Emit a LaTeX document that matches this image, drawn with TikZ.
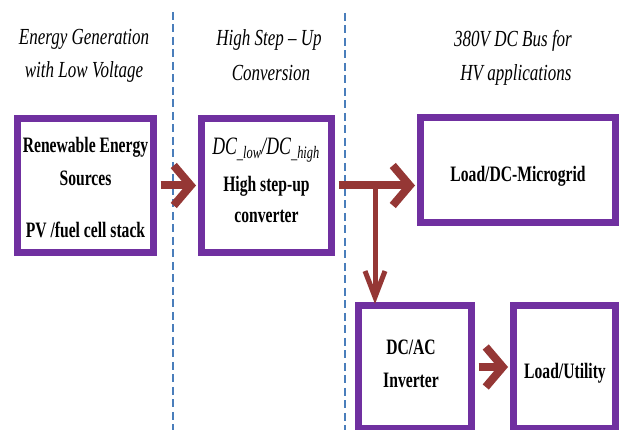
\documentclass[tikz,border=0pt]{standalone}
\usepackage{fontspec}
\setmainfont{Liberation Serif}
\usetikzlibrary{arrows.meta}
\definecolor{boxpurple}{HTML}{7030A0}
\definecolor{arrred}{HTML}{953735}
\definecolor{dashblue}{HTML}{4A7EBB}
\newcommand{\hdr}[1]{\scalebox{0.74}[1]{#1}}
\newcommand{\bxt}[1]{\scalebox{0.71}[1]{#1}}
\begin{document}
\begin{tikzpicture}[x=1pt,y=-1pt,
  blk/.style={draw=boxpurple, line width=7pt, fill=white, rectangle, inner sep=0pt},
  hdrtxt/.style={anchor=base, inner sep=0pt, font=\fontsize{23}{27}\selectfont\itshape},
  bxtxt/.style={anchor=base, inner sep=0pt, font=\fontsize{22}{26}\selectfont\bfseries},
  dline/.style={draw=dashblue, line width=2.7pt, dash pattern=on 8pt off 4.5pt},
  bigarr/.style={draw=arrred, line width=8pt, -{Straight Barb[length=17pt,width=40pt]}},
  thinarr/.style={draw=arrred, line width=5pt, -{Straight Barb[length=26pt,width=20pt]}}]
\useasboundingbox (0,0) rectangle (619,430);
\fill[white] (0,0) rectangle (619,430);

% dashed separators
\coordinate (d1t) at (173,12);
\coordinate (d1b) at (173,430);
\coordinate (d2t) at (345,13);
\coordinate (d2b) at (345,430);
\draw[dline] (d1t) -- (d1b);
\draw[dline] (d2t) -- (d2b);

% headers
\node[hdrtxt] (h1a) at (84,45) {\hdr{Energy Generation}};
\node[hdrtxt] (h1b) at (84,78) {\hdr{with Low Voltage}};
\node[hdrtxt] (h2a) at (269,46) {\hdr{High Step -- Up}};
\node[hdrtxt] (h2b) at (271,81) {\hdr{Conversion}};
\node[hdrtxt] (h3a) at (513,47) {\hdr{380V DC Bus for}};
\node[hdrtxt] (h3b) at (516,81) {\hdr{HV applications}};

% boxes
\node[blk, minimum width=136pt, minimum height=134pt] (b1) at (85.5,185.5) {};
\node[blk, minimum width=130pt, minimum height=134pt] (b2) at (266.5,185.5) {};
\node[blk, minimum width=195pt, minimum height=105pt] (b3) at (518,170) {};
\node[blk, minimum width=113pt, minimum height=123pt] (b4) at (415,367) {};
\node[blk, minimum width=102pt, minimum height=123pt] (b5) at (564.5,367) {};

% box texts
\node[bxtxt] (t1a) at (85.5,153) {\bxt{Renewable Energy}};
\node[bxtxt] (t1b) at (85.5,186) {\bxt{Sources}};
\node[bxtxt] (t1c) at (85.5,238) {\bxt{PV /fuel cell stack}};
\node[anchor=base, inner sep=0pt, font=\fontsize{25}{28}\selectfont\itshape] (t2a) at (266,155)
  {\bxt{DC\textsubscript{\_low}/DC\textsubscript{\_high}}};
\node[bxtxt] (t2b) at (266.5,192) {\bxt{High step-up}};
\node[bxtxt] (t2c) at (266.5,223) {\bxt{converter}};
\node[bxtxt] (t3) at (518,182) {\bxt{Load/DC-Microgrid}};
\node[bxtxt] (t4a) at (411,355) {\bxt{DC/AC}};
\node[bxtxt] (t4b) at (411,388) {\bxt{Inverter}};
\node[bxtxt] (t5) at (565,379) {\bxt{Load/Utility}};

% connectors
\draw[bigarr] ([xshift=3.5pt]b1.east) -- ([xshift=-2pt]b2.west);
\draw[bigarr] ([xshift=3.5pt]b2.east) -- ([xshift=-2pt]b2.east -| b3.west);
\coordinate (br) at (375,185.5);
\draw[thinarr] (br) -- ([yshift=-2pt]br |- b4.north);
\draw[bigarr] ([xshift=3.5pt]b4.east) -- ([xshift=-2pt]b5.west);
\end{tikzpicture}
\end{document}
